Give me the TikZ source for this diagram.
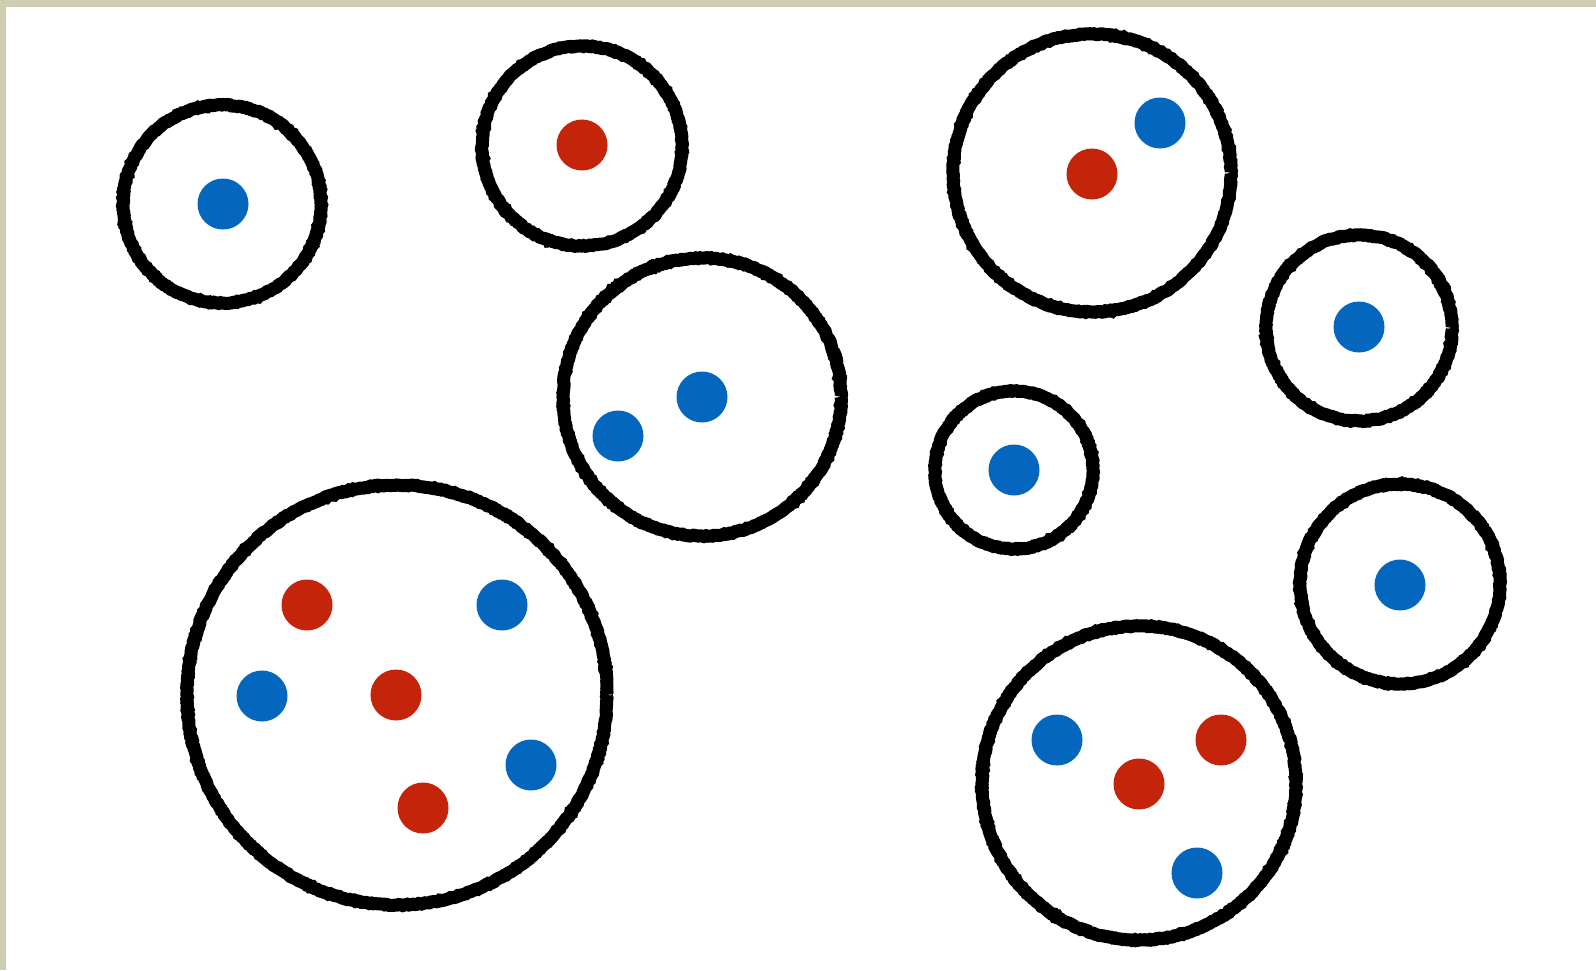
\documentclass[tikz,border=0pt]{standalone}
\usepackage{tikz}
\usetikzlibrary{decorations.pathmorphing}
\definecolor{paper}{RGB}{206,205,178}
\definecolor{dotblue}{RGB}{5,102,190}
\definecolor{dotred}{RGB}{196,36,10}

\begin{document}
\begin{tikzpicture}[x=1pt,y=-1pt,
    cell/.style={draw=black, circle, line width=13pt, inner sep=0pt,
        decoration={random steps, segment length=2pt, amplitude=0.6pt}, decorate},
    blue dot/.style={circle, fill=dotblue, inner sep=0pt, minimum size=51pt},
    red dot/.style={circle, fill=dotred, inner sep=0pt, minimum size=51pt}]
            % Frame
            \fill[paper] (0,0) rectangle (1596,970);
            \fill[white] (6,7) rectangle (1596,970);

            % Cells
            \node[cell, minimum size=198pt] (cellA) at (222,204) {};
            \node[cell, minimum size=200pt] (cellB) at (582,146) {};
            \node[cell, minimum size=278pt] (cellC) at (702,397) {};
            \node[cell, minimum size=420pt] (cellD) at (397,695) {};
            \node[cell, minimum size=278pt] (cellE) at (1092,173) {};
            \node[cell, minimum size=158pt] (cellF) at (1014,470) {};
            \node[cell, minimum size=186pt] (cellG) at (1359,328) {};
            \node[cell, minimum size=200pt] (cellH) at (1400,584) {};
            \node[cell, minimum size=314pt] (cellI) at (1139,783) {};

            % Dots in the small cells
            \node[blue dot] (a1) at (223,204) {};
            \node[red dot] (b1) at (582,145) {};
            \node[blue dot] (f1) at (1014,470) {};
            \node[blue dot] (g1) at (1359,327) {};
            \node[blue dot] (h1) at (1400,585) {};

            % Dots in the middle cells
            \node[blue dot] (c1) at (618,436) {};
            \node[blue dot] (c2) at (702,397) {};
            \node[blue dot] (e1) at (1160,123) {};
            \node[red dot] (e2) at (1092,174) {};

            % Dots in the big cells
            \node[red dot] (d1) at (307,605) {};
            \node[blue dot] (d2) at (502,605) {};
            \node[blue dot] (d3) at (262,696) {};
            \node[red dot] (d4) at (396,695) {};
            \node[blue dot] (d5) at (531,765) {};
            \node[red dot] (d6) at (423,808) {};
            \node[blue dot] (i1) at (1057,740) {};
            \node[red dot] (i2) at (1221,740) {};
            \node[red dot] (i3) at (1139,784) {};
            \node[blue dot] (i4) at (1197,873) {};
        \end{tikzpicture}
\end{document}
